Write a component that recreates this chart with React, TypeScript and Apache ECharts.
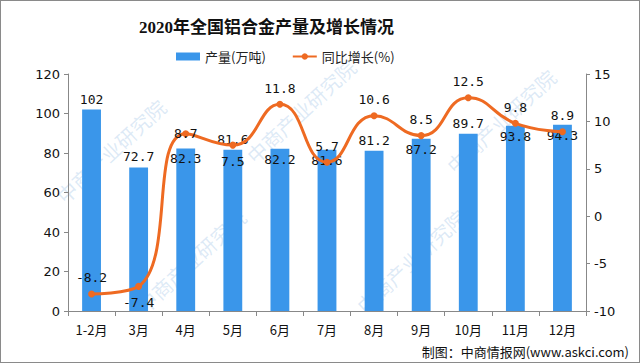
import React, { useEffect, useRef } from "react";
import * as echarts from "echarts";

const categories = ["1-2月", "3月", "4月", "5月", "6月", "7月", "8月", "9月", "10月", "11月", "12月"];
const output = [102, 72.7, 82.3, 81.6, 82.2, 81.6, 81.2, 87.2, 89.7, 93.8, 94.3];
const growth = [-8.2, -7.4, 8.7, 7.5, 11.8, 5.7, 10.6, 8.5, 12.5, 9.8, 8.9];
const barLabelPos = ["top", "top", "insideTop", "top", "insideTop", "insideTop", "top", "insideTop", "top", "insideTop", "insideTop"];
const lineLabelPos = ["top", "bottom", "inside", "bottom", "top", "top", "top", "top", "top", "top", "top"];

export default function App() {
  const ref = useRef<HTMLDivElement>(null);
  useEffect(() => {
    document.body.style.margin = "0";
    const chart = echarts.init(ref.current!, null, { renderer: "svg" });
    const wm = [
      [110, 150], [300, 110], [500, 120], [190, 260], [410, 260],
    ].map(([x, y]) => ({
      type: "text",
      x,
      y,
      rotation: 0.75,
      silent: true,
      z: -10,
      style: {
        text: "中商产业研究院",
        fill: "rgba(120,170,220,0.25)",
        font: "20px 'Noto Sans CJK SC'",
        align: "center",
        verticalAlign: "middle",
      },
    }));
    chart.setOption({
      animation: false,
      backgroundColor: "#fff",
      title: {
        text: "2020年全国铝合金产量及增长情况",
        left: 133,
        top: 13,
        textStyle: { fontSize: 17, fontWeight: "bold", color: "#111", fontFamily: "'Liberation Serif', 'Noto Sans CJK SC'" },
      },
      legend: {
        top: 44,
        left: 170,
        itemWidth: 24,
        itemHeight: 8,
        itemGap: 26,
        textStyle: { fontSize: 13, color: "#222", fontFamily: "'Noto Sans CJK SC'" },
        data: [
          { name: "产量(万吨)", icon: "rect" },
          { name: "同比增长(%)" },
        ],
      },
      grid: { left: 67, right: 53, top: 73, bottom: 51 },
      xAxis: {
        type: "category",
        data: categories,
        axisLine: { lineStyle: { color: "#888" } },
        axisTick: { show: true, alignWithLabel: false, lineStyle: { color: "#888" } },
        axisLabel: { color: "#111", fontSize: 13, margin: 12, fontFamily: "'Noto Sans CJK SC'" },
      },
      yAxis: [
        {
          type: "value",
          min: 0,
          max: 120,
          interval: 20,
          axisLine: { show: true, lineStyle: { color: "#888" } },
          axisTick: { show: true, length: 4, lineStyle: { color: "#888" } },
          splitLine: { show: false },
          axisLabel: { color: "#111", fontSize: 13, fontFamily: "'DejaVu Sans'" },
        },
        {
          type: "value",
          min: -10,
          max: 15,
          interval: 5,
          axisLine: { show: true, lineStyle: { color: "#888" } },
          axisTick: { show: true, length: 4, inside: false, lineStyle: { color: "#888" } },
          splitLine: { show: false },
          axisLabel: { color: "#111", fontSize: 13, fontFamily: "'DejaVu Sans'" },
        },
      ],
      series: [
        {
          name: "产量(万吨)",
          type: "bar",
          barWidth: "40%",
          itemStyle: { color: "#3A96EA" },
          data: output.map((v, i) => ({
            value: v,
            label: { show: true, position: barLabelPos[i], distance: 4 },
          })),
          label: { color: "#111", fontSize: 13, fontFamily: "'DejaVu Sans Mono'" },
        },
        {
          name: "同比增长(%)",
          type: "line",
          yAxisIndex: 1,
          smooth: true,
          symbol: "circle",
          symbolSize: 7,
          itemStyle: { color: "#EE6A22" },
          lineStyle: { color: "#EE6A22", width: 3 },
          data: growth.map((v, i) => ({
            value: v,
            label: { show: true, position: lineLabelPos[i], distance: 6 },
          })),
          label: { color: "#111", fontSize: 13, fontFamily: "'DejaVu Sans Mono'" },
        },
      ],
      graphic: [
        ...wm,
        {
          type: "text",
          right: 10,
          bottom: 4,
          style: {
            text: "制图：中商情报网(www.askci.com)",
            fill: "#111",
            font: "13px 'Noto Sans CJK SC'",
          },
        },
      ],
    });
    return () => chart.dispose();
  }, []);
  return (
    <div
      ref={ref}
      style={{ width: 640, height: 363, boxSizing: "border-box", border: "1px solid #8a8a8a" }}
    />
  );
}
